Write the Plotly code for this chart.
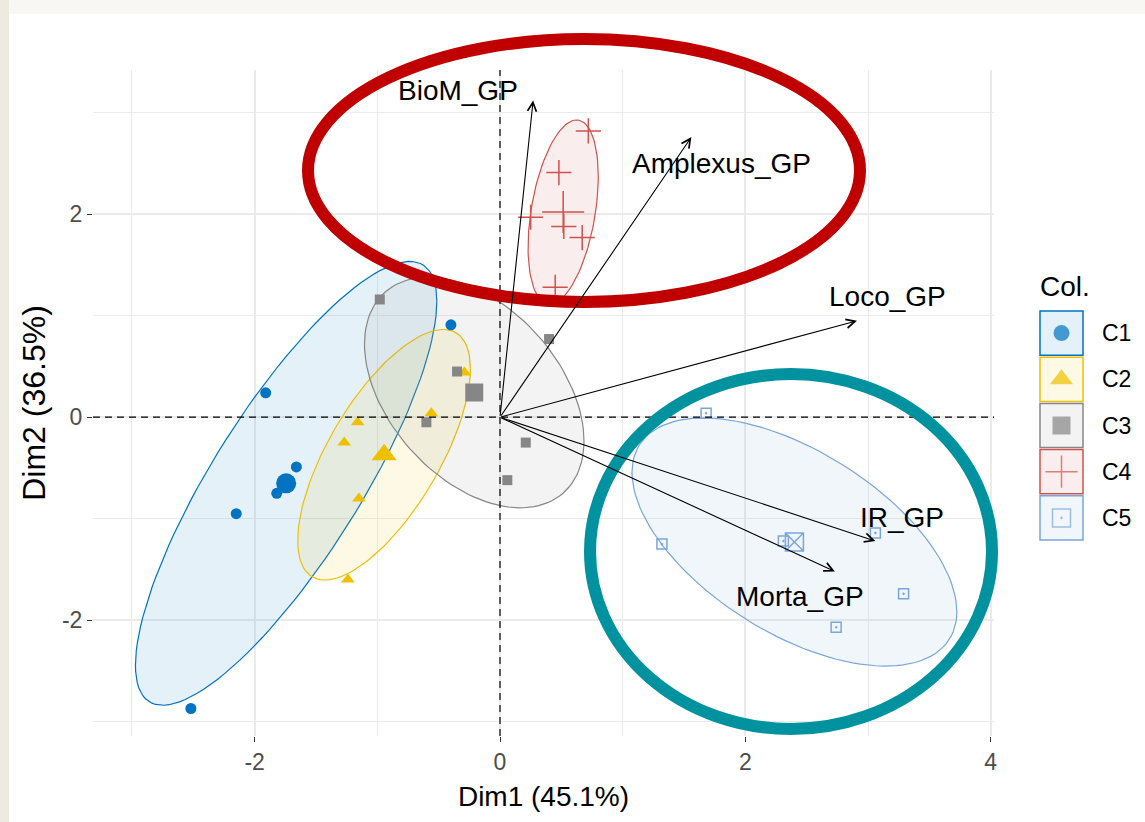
import numpy as np
import plotly.graph_objects as go

# ---------------- data ----------------
groups = ["C1", "C2", "C3", "C4", "C5"]
colors = ["#0073C2", "#EFC000", "#868686", "#CD534C", "#7AA6DC"]

c1_x = [-0.40, -1.91, -1.66, -1.82, -2.15, -2.52]
c1_y = [0.91, 0.24, -0.49, -0.75, -0.95, -2.87]
c2_x = [-1.16, -1.27, -1.15, -1.24, -0.56, -0.29]
c2_y = [-0.05, -0.25, -0.80, -1.60, 0.04, 0.44]
c3_x = [-0.98, -0.35, -0.60, 0.40, 0.21, 0.06]
c3_y = [1.16, 0.45, -0.05, 0.77, -0.25, -0.62]
c4_x = [0.72, 0.48, 0.25, 0.52, 0.67, 0.45]
c4_y = [2.82, 2.41, 1.97, 1.88, 1.77, 1.28]
c5_x = [1.68, 1.32, 2.31, 3.06, 3.29, 2.74]
c5_y = [0.04, -1.25, -1.22, -1.14, -1.74, -2.07]

var_names = ["BioM_GP", "Amplexus_GP", "Loco_GP", "IR_GP", "Morta_GP"]
var_x = [0.27, 1.56, 2.91, 3.06, 2.73]
var_y = [3.12, 2.76, 0.95, -1.22, -1.52]

x_ticks = [-2, 0, 2, 4]
y_ticks = [-2, 0, 2]
x_minor = [-3, -1, 1, 3]
y_minor = [-3, -1, 1, 3]

group_x = [c1_x, c2_x, c3_x, c4_x, c5_x]
group_y = [c1_y, c2_y, c3_y, c4_y, c5_y]

# ---------------- styles ----------------
W, H = 1145, 822
FONT = "Liberation Sans, Arial, sans-serif"
pt_symbols = ["circle", "triangle-up", "square", "cross-thin-open", "square-open-dot"]
mean_symbols = ["circle", "triangle-up", "square", "cross-thin-open", "square-x-open"]
pt_sizes = [11, 12, 10, 18, 10]
mean_sizes = [20, 22, 18, 30, 18]
leg_sizes = [16, 20, 18, 23, 18]
label_shift = [(-75, -10), (30, 26), (31, -24), (27, -24), (-35, 25)]  # px (dx, dy down)

# panel in pixels
PL, PR, PT, PB = 93, 994, 70, 736


def rgba(hexc, a):
    h = hexc.lstrip("#")
    return "rgba(%d,%d,%d,%.3f)" % (int(h[0:2], 16), int(h[2:4], 16), int(h[4:6], 16), a)


def ellipse(xs, ys, level=0.68, npts=120):
    pts = np.column_stack([xs, ys])
    n = len(pts)
    center = pts.mean(axis=0)
    cov = np.cov(pts, rowvar=False)
    dfd = n - 1
    qf = dfd / 2.0 * ((1 - level) ** (-2.0 / dfd) - 1)
    radius = np.sqrt(2 * qf)
    chol = np.linalg.cholesky(cov).T
    t = np.linspace(0, 2 * np.pi, npts + 1)
    unit = np.column_stack([np.cos(t), np.sin(t)])
    e = center + radius * unit @ chol
    return e[:, 0], e[:, 1]


fig = go.Figure()

# ellipses
for g, col, xs, ys in zip(groups, colors, group_x, group_y):
    ex, ey = ellipse(xs, ys)
    fig.add_trace(go.Scatter(x=ex, y=ey, mode="lines", fill="toself",
                             fillcolor=rgba(col, 0.1), line=dict(color=col, width=1.2),
                             hoverinfo="skip", showlegend=False))

# points and group means
for i, (g, col, xs, ys) in enumerate(zip(groups, colors, group_x, group_y)):
    fig.add_trace(go.Scatter(x=xs, y=ys, mode="markers", name=g, showlegend=False,
                             marker=dict(symbol=pt_symbols[i], size=pt_sizes[i], color=col,
                                         line=dict(color=col, width=1.5 if "open" in pt_symbols[i] else 0))))
    fig.add_trace(go.Scatter(x=[np.mean(xs)], y=[np.mean(ys)], mode="markers", showlegend=False,
                             marker=dict(symbol=mean_symbols[i], size=mean_sizes[i], color=col,
                                         line=dict(color=col, width=1.5 if "open" in mean_symbols[i] else 0))))

# legend markers on helper axis
leg_top, leg_h = 310, 46.2
fig.add_trace(go.Scatter(x=[0.5] * len(groups), y=[i + 0.5 for i in range(len(groups))],
                         xaxis="x2", yaxis="y2", mode="markers", showlegend=False, hoverinfo="skip",
                         marker=dict(symbol=["circle", "triangle-up", "square", "cross-thin-open", "square-open-dot"],
                                     size=leg_sizes, color=colors,
                                     line=dict(color=colors, width=[0, 0, 0, 1.5, 1.5]))))

shapes = []
# background strips
shapes.append(dict(type="rect", xref="paper", yref="paper", x0=0, x1=9 / W, y0=0, y1=1,
                   fillcolor="#EDEAE0", line=dict(width=0), layer="below"))
shapes.append(dict(type="rect", xref="paper", yref="paper", x0=9 / W, x1=1, y0=1 - 14 / H, y1=1,
                   fillcolor="#F8F7F4", line=dict(width=0), layer="below"))
# dashed zero lines
shapes.append(dict(type="line", xref="x", yref="y domain", x0=0, x1=0, y0=0, y1=1,
                   line=dict(color="black", width=1.2, dash="7px,5px"), layer="above"))
shapes.append(dict(type="line", xref="x domain", yref="y", x0=0, x1=1, y0=0, y1=0,
                   line=dict(color="black", width=1.2, dash="7px,5px"), layer="above"))
# legend key boxes
for i, col in enumerate(colors):
    top = leg_top + i * leg_h
    shapes.append(dict(type="rect", xref="paper", yref="paper",
                       x0=1040 / W, x1=1083 / W, y0=1 - (top + leg_h - 1) / H, y1=1 - (top + 1) / H,
                       fillcolor=rgba(col, 0.1), line=dict(color=col, width=1.5), layer="above"))
# highlight ovals
shapes.append(dict(type="circle", xref="paper", yref="paper",
                   x0=308 / W, x1=860 / W, y0=1 - 302 / H, y1=1 - 39 / H,
                   line=dict(color="#C00000", width=12), layer="above"))
shapes.append(dict(type="circle", xref="paper", yref="paper",
                   x0=590 / W, x1=992 / W, y0=1 - 729 / H, y1=1 - 374 / H,
                   line=dict(color="#00929E", width=12), layer="above"))

annotations = []
for name, vx, vy, (dx, dy) in zip(var_names, var_x, var_y, label_shift):
    annotations.append(dict(x=vx, y=vy, ax=0, ay=0, xref="x", yref="y", axref="x", ayref="y",
                            text="", showarrow=True, arrowhead=5, arrowsize=1.6, arrowwidth=1.1,
                            arrowcolor="black", standoff=0))
    annotations.append(dict(x=vx, y=vy, xref="x", yref="y", text=name, showarrow=False,
                            xshift=dx, yshift=-dy, font=dict(family=FONT, size=28, color="black")))

annotations.append(dict(x=1038 / W, y=1 - 287 / H, xref="paper", yref="paper", text="Col.",
                        showarrow=False, xanchor="left", yanchor="middle",
                        font=dict(family=FONT, size=28, color="black")))
for i, g in enumerate(groups):
    annotations.append(dict(x=1100 / W, y=1 - (leg_top + (i + 0.5) * leg_h) / H, xref="paper", yref="paper",
                            text=g, showarrow=False, xanchor="left", yanchor="middle",
                            font=dict(family=FONT, size=23, color="black")))

grid = "#EBEBEB"
fig.update_layout(
    width=W, height=H,
    margin=dict(l=0, r=0, t=0, b=0),
    paper_bgcolor="white", plot_bgcolor="white",
    font=dict(family=FONT),
    showlegend=False,
    shapes=shapes, annotations=annotations,
    xaxis=dict(domain=[PL / W, PR / W], range=[(PL - 500) / 122.67, (PR - 500) / 122.67],
               tickmode="array", tickvals=x_ticks, ticktext=[str(v) for v in x_ticks],
               showgrid=True, gridcolor=grid, gridwidth=1.6, zeroline=False, showline=False,
               ticks="outside", ticklen=5, tickwidth=1.2, tickcolor="#333333",
               tickfont=dict(size=23, color="#4D4D4D", family=FONT),
               minor=dict(tickmode="array", tickvals=x_minor, showgrid=True, gridcolor=grid, gridwidth=1.3, ticks=""),
               title=dict(text="Dim1 (45.1%)", font=dict(size=28, color="black", family=FONT), standoff=12),
               automargin=False, anchor="y"),
    yaxis=dict(domain=[1 - PB / H, 1 - PT / H], range=[(417.2 - PB) / 101.5, (417.2 - PT) / 101.5],
               tickmode="array", tickvals=y_ticks, ticktext=[str(v) for v in y_ticks],
               showgrid=True, gridcolor=grid, gridwidth=1.6, zeroline=False, showline=False,
               ticks="outside", ticklen=5, tickwidth=1.2, tickcolor="#333333",
               tickfont=dict(size=23, color="#4D4D4D", family=FONT),
               minor=dict(tickmode="array", tickvals=y_minor, showgrid=True, gridcolor=grid, gridwidth=1.3, ticks=""),
               title=dict(text="Dim2 (36.5%)", font=dict(size=32, color="black", family=FONT), standoff=6),
               automargin=False, anchor="x"),
    xaxis2=dict(domain=[1040 / W, 1083 / W], range=[0, 1], visible=False, anchor="y2", fixedrange=True),
    yaxis2=dict(domain=[1 - (leg_top + 5 * leg_h) / H, 1 - leg_top / H], range=[5, 0], visible=False,
                anchor="x2", fixedrange=True),
)

fig.write_html("out.html", config={"displayModeBar": False},
               post_script="document.body.style.margin='0px';document.body.style.overflow='hidden';")
